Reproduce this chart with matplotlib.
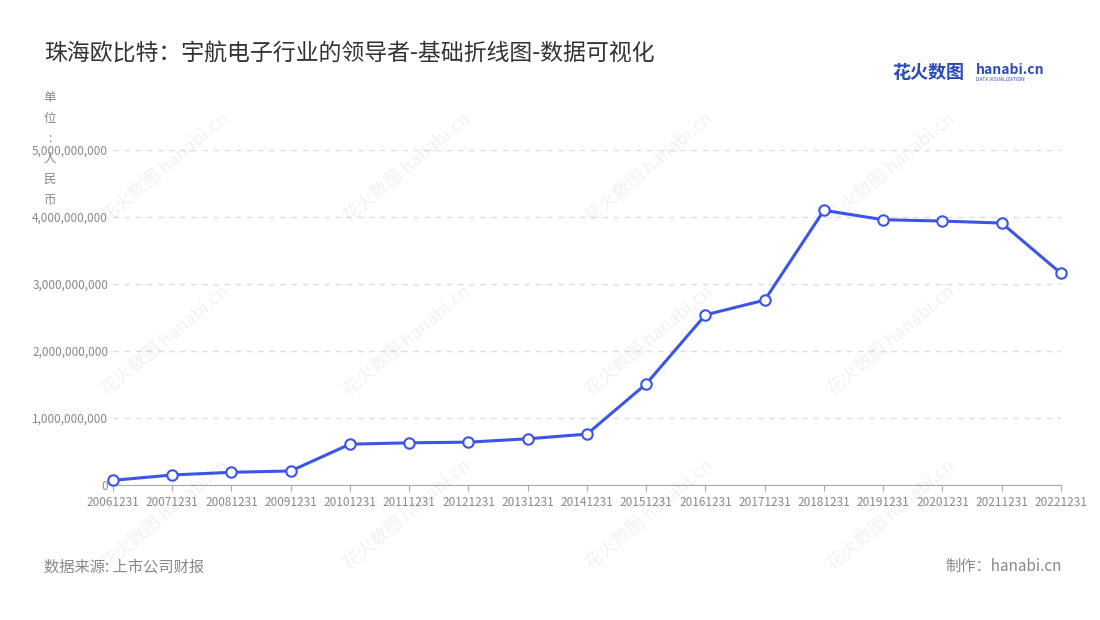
import matplotlib
matplotlib.use("Agg")
import matplotlib.pyplot as plt
from matplotlib.ticker import FuncFormatter

plt.rcParams['font.family'] = ['Noto Sans CJK SC', 'DejaVu Sans']

years = ["20061231","20071231","20081231","20091231","20101231","20111231","20121231","20131231",
         "20141231","20151231","20161231","20171231","20181231","20191231","20201231","20211231","20221231"]
values = [0.07e9,0.15e9,0.19e9,0.21e9,0.61e9,0.63e9,0.64e9,0.69e9,0.76e9,1.51e9,2.54e9,2.76e9,
          4.10e9,3.96e9,3.94e9,3.91e9,3.16e9]

fig = plt.figure(figsize=(11, 6.2), dpi=100)
ax = fig.add_axes([0.1027, 0.2177, 0.8618, 0.5403])
x = list(range(len(years)))
ax.plot(x, values, color='#3b55e6', lw=2.2, marker='o', ms=7.5, mfc='white', mec='#3b55e6', mew=1.5, zorder=3, clip_on=False)
ax.set_xlim(0, len(years)-1)
ax.set_ylim(0, 5e9)
ax.set_yticks([0,1e9,2e9,3e9,4e9,5e9])
ax.yaxis.set_major_formatter(FuncFormatter(lambda v, p: f"{int(v):,}"))
ax.set_xticks(x)
ax.set_xticklabels(years)
ax.tick_params(axis='both', labelsize=8.5, colors='#888888', length=0)
ax.tick_params(axis='x', length=4, color='#aaaaaa', pad=4)
ax.grid(axis='y', ls=(0,(4,4)), color='#dddddd', lw=1)
for s in ['top','right','left']:
    ax.spines[s].set_visible(False)
ax.spines['bottom'].set_color('#aaaaaa')

fig.text(0.04, 0.913, "珠海欧比特：宇航电子行业的领导者-基础折线图-数据可视化", fontsize=16.5, color='#333333', va='center')
fig.text(0.045, 0.76, "单\n位\n:\n人\n民\n币", fontsize=9, color='#888888', ha='center', va='center', linespacing=1.75)
fig.text(0.04, 0.086, "数据来源: 上市公司财报", fontsize=11, color='#888888', va='center')
fig.text(0.965, 0.086, "制作：hanabi.cn", fontsize=11, color='#888888', va='center', ha='right')
fig.text(0.811, 0.883, "花火数图", fontsize=13, color='#2a4bb5', va='center', fontweight='bold')
fig.text(0.887, 0.887, "hanabi.cn", fontsize=10, color='#2a4bb5', va='center', fontweight='bold')
fig.text(0.887, 0.871, "DATA VISUALIZATION", fontsize=3.5, color='#2a4bb5', va='center')

for wx in [0.37, 0.59, 0.81, 0.15]:
    for wy in [0.17, 0.45, 0.73]:
        fig.text(wx, wy, "花火数图 hanabi.cn", fontsize=13, color='#000000', alpha=0.06,
                 rotation=40, ha='center', va='center')

fig.savefig("out.png", dpi=100)
